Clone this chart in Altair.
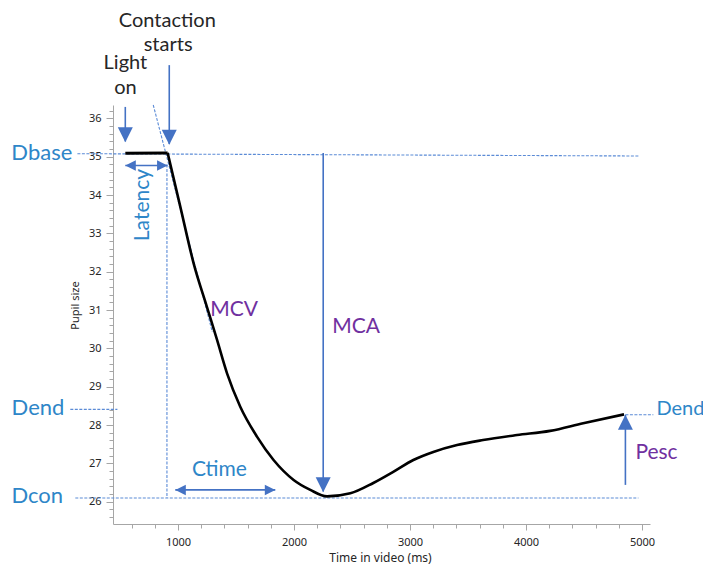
import altair as alt
import pandas as pd

# ---- data ----
curve_x = [911, 1020, 1135, 1250, 1337, 1423, 1537, 1681, 1824, 1997, 2141, 2285,
           2486, 2684, 2856, 3029, 3201, 3406, 3630, 3923, 4208, 4493, 4845]
curve_y = [35.10, 33.70, 32.22, 31.08, 30.22, 29.35, 28.48, 27.70, 27.09, 26.57, 26.31, 26.14,
           26.22, 26.49, 26.78, 27.09, 27.30, 27.48, 27.61, 27.74, 27.85, 28.05, 28.28]
base_x = [546, 911]
base_y = [35.09, 35.10]

x_ticks = [600, 800, 1000, 1200, 1400, 1600, 1800, 2000, 2200, 2400, 2600, 2800, 3000,
           3200, 3400, 3600, 3800, 4000, 4200, 4400, 4600, 4800, 5000]
y_ticks = [round(m + f, 1) for m in range(25, 37) for f in (0, 0.2, 0.4, 0.6, 0.8)
           if 25.5 < m + f < 36.3]

# dashed guide lines
dash_x = [133, 115, 72, 4857, 905, 787]
dash_x2 = [4969, 4969, 478, 5098, 905, 1296]
dash_y = [35.08, 26.10, 28.41, 28.27, 34.80, 36.35]
dash_y2 = [35.02, 26.10, 28.41, 28.27, 26.10, 30.43]

# arrow shafts
shaft_x = [546, 925, 546, 2252, 977, 4857]
shaft_x2 = [546, 925, 910, 2252, 1839, 4857]
shaft_y = [36.30, 37.39, 34.77, 35.10, 26.31, 26.44]
shaft_y2 = [35.40, 35.33, 34.77, 26.27, 26.31, 28.27]

# big arrow heads (tip positions)
big_x = [546, 925, 2252, 4857]
big_y = [35.38, 35.31, 26.25, 28.27]
big_dir = ["down", "down", "down", "up"]
# small arrow heads
small_x = [546, 910, 977, 1839]
small_y = [34.77, 34.77, 26.31, 26.31]
small_dir = ["left", "right", "left", "right"]

# texts
black_text = ["Contaction", "starts", "Light", "on"]
black_x = [908, 915, 547, 547]
black_y = [38.53, 37.91, 37.45, 36.79]

blue_r_text = ["Dbase", "Dend", "Dcon"]
blue_r_x = [89, 21, 10]
blue_r_y = [35.10, 28.44, 26.14]

blue_l_text = ["Dend"]
blue_l_x = [5124]
blue_l_y = [28.42]

ctime_text = ["Ctime"]
ctime_x = [1357]
ctime_y = [26.83]

lat_text = ["Latency"]
lat_x = [702]
lat_y = [33.74]

purple_text = ["MCV", "MCA", "Pesc"]
purple_x = [1279, 2330, 4943]
purple_y = [31.00, 30.56, 27.27]

# ---- styling ----
ARROW = "#4472C4"
DASH = "#5B8BD6"
BLUE = "#2E86C8"
PURPLE = "#7030A0"
FONT = "Lato"
AXF = "Noto Sans"

xs = alt.Scale(domain=[440, 5069], nice=False, zero=False)
ys = alt.Scale(domain=[25.42, 36.35], nice=False, zero=False)

is_major_x = "datum.value % 1000 === 0"
is_major_y = "abs(datum.value - round(datum.value)) < 0.001"

x_axis = alt.Axis(
    values=x_ticks, format="d", labelExpr=f"{is_major_x} ? datum.label : ''",
    tickSize={"condition": {"test": is_major_x, "value": 6}, "value": 4},
    labelOverlap=False, labelFlush=False, labelBound=False, grid=False,
    domainColor="#A6A6A6", tickColor="#A6A6A6", labelColor="#262626",
    labelFont=AXF, labelFontSize=11, labelPadding=6,
    title="Time in video (ms)", titleFont=AXF, titleFontSize=12,
    titleFontWeight="normal", titleColor="#262626",
    titleX=267, titleY=33, titleBaseline="middle",
)
y_axis = alt.Axis(
    values=y_ticks, format=".0f", labelExpr=f"{is_major_y} ? datum.label : ''",
    tickSize={"condition": {"test": is_major_y, "value": 7}, "value": 4},
    labelOverlap=False, labelFlush=False, labelBound=False, grid=False,
    domainColor="#A6A6A6", tickColor="#A6A6A6", labelColor="#262626",
    labelFont=AXF, labelFontSize=11, labelPadding=5,
    title="Pupil size", titleFont=AXF, titleFontSize=11,
    titleFontWeight="normal", titleColor="#262626",
    titleX=-38, titleY=200, titleBaseline="middle", titleAlign="center",
)


def X(field):
    return alt.X(field, scale=xs, axis=x_axis)


def Y(field):
    return alt.Y(field, scale=ys, axis=y_axis)


curve_df = pd.DataFrame({"t": curve_x, "p": curve_y})
base_df = pd.DataFrame({"t": base_x, "p": base_y})
dash_df = pd.DataFrame({"x": dash_x, "x2": dash_x2, "y": dash_y, "y2": dash_y2})
shaft_df = pd.DataFrame({"x": shaft_x, "x2": shaft_x2, "y": shaft_y, "y2": shaft_y2})
big_df = pd.DataFrame({"x": big_x, "y": big_y, "d": big_dir})
small_df = pd.DataFrame({"x": small_x, "y": small_y, "d": small_dir})

shape_scale = alt.Scale(
    domain=["down", "up", "left", "right"],
    range=["M-1,-2L1,-2L0,0Z", "M-1,2L1,2L0,0Z", "M2,-1L2,1L0,0Z", "M-2,-1L-2,1L0,0Z"],
)

dashes = alt.Chart(dash_df).mark_rule(color=DASH, strokeWidth=1.1, strokeDash=[3, 1.5]).encode(
    x=X("x:Q"), x2="x2:Q", y=Y("y:Q"), y2="y2:Q",
)
base_line = alt.Chart(base_df).mark_line(color="black", strokeWidth=3).encode(
    x=X("t:Q"), y=Y("p:Q")
)
curve = alt.Chart(curve_df).mark_line(color="black", strokeWidth=2.6, interpolate="monotone").encode(
    x=X("t:Q"), y=Y("p:Q")
)
shafts = alt.Chart(shaft_df).mark_rule(color=ARROW, strokeWidth=1.6).encode(
    x=X("x:Q"), x2="x2:Q", y=Y("y:Q"), y2="y2:Q"
)
big_heads = alt.Chart(big_df).mark_point(filled=True, opacity=1, color=ARROW, size=225).encode(
    x=X("x:Q"), y=Y("y:Q"),
    shape=alt.Shape("d:N", scale=shape_scale, legend=None),
)
small_heads = alt.Chart(small_df).mark_point(filled=True, opacity=1, color=ARROW, size=110).encode(
    x=X("x:Q"), y=Y("y:Q"),
    shape=alt.Shape("d:N", scale=shape_scale, legend=None),
)


def texts(txt, xv, yv, color, size, align, angle=0):
    df = pd.DataFrame({"label": txt, "x": xv, "y": yv})
    kw = dict(color=color, fontSize=size, font=FONT, align=align, baseline="middle")
    if angle:
        kw["angle"] = angle
    return alt.Chart(df).mark_text(**kw).encode(
        x=X("x:Q"), y=Y("y:Q"), text="label:N"
    )


layers = [
    dashes, base_line, curve, shafts, big_heads, small_heads,
    texts(black_text, black_x, black_y, "#262626", 20, "center"),
    texts(blue_r_text, blue_r_x, blue_r_y, BLUE, 22, "right"),
    texts(blue_l_text, blue_l_x, blue_l_y, BLUE, 20, "left"),
    texts(ctime_text, ctime_x, ctime_y, BLUE, 21, "center"),
    texts(lat_text, lat_x, lat_y, BLUE, 21, "center", angle=270),
    texts(purple_text, purple_x, purple_y, PURPLE, 21, "left"),
]

chart = alt.layer(*layers).properties(
    width=537, height=419,
    padding={"left": 105, "top": 97, "right": 53, "bottom": 40},
    autosize=alt.AutoSizeParams(type="none"),
    background="white",
).configure_view(stroke=None).configure_axis(labelOverlap=False)

chart.save("out.html", embed_options={"renderer": "svg", "actions": False})
